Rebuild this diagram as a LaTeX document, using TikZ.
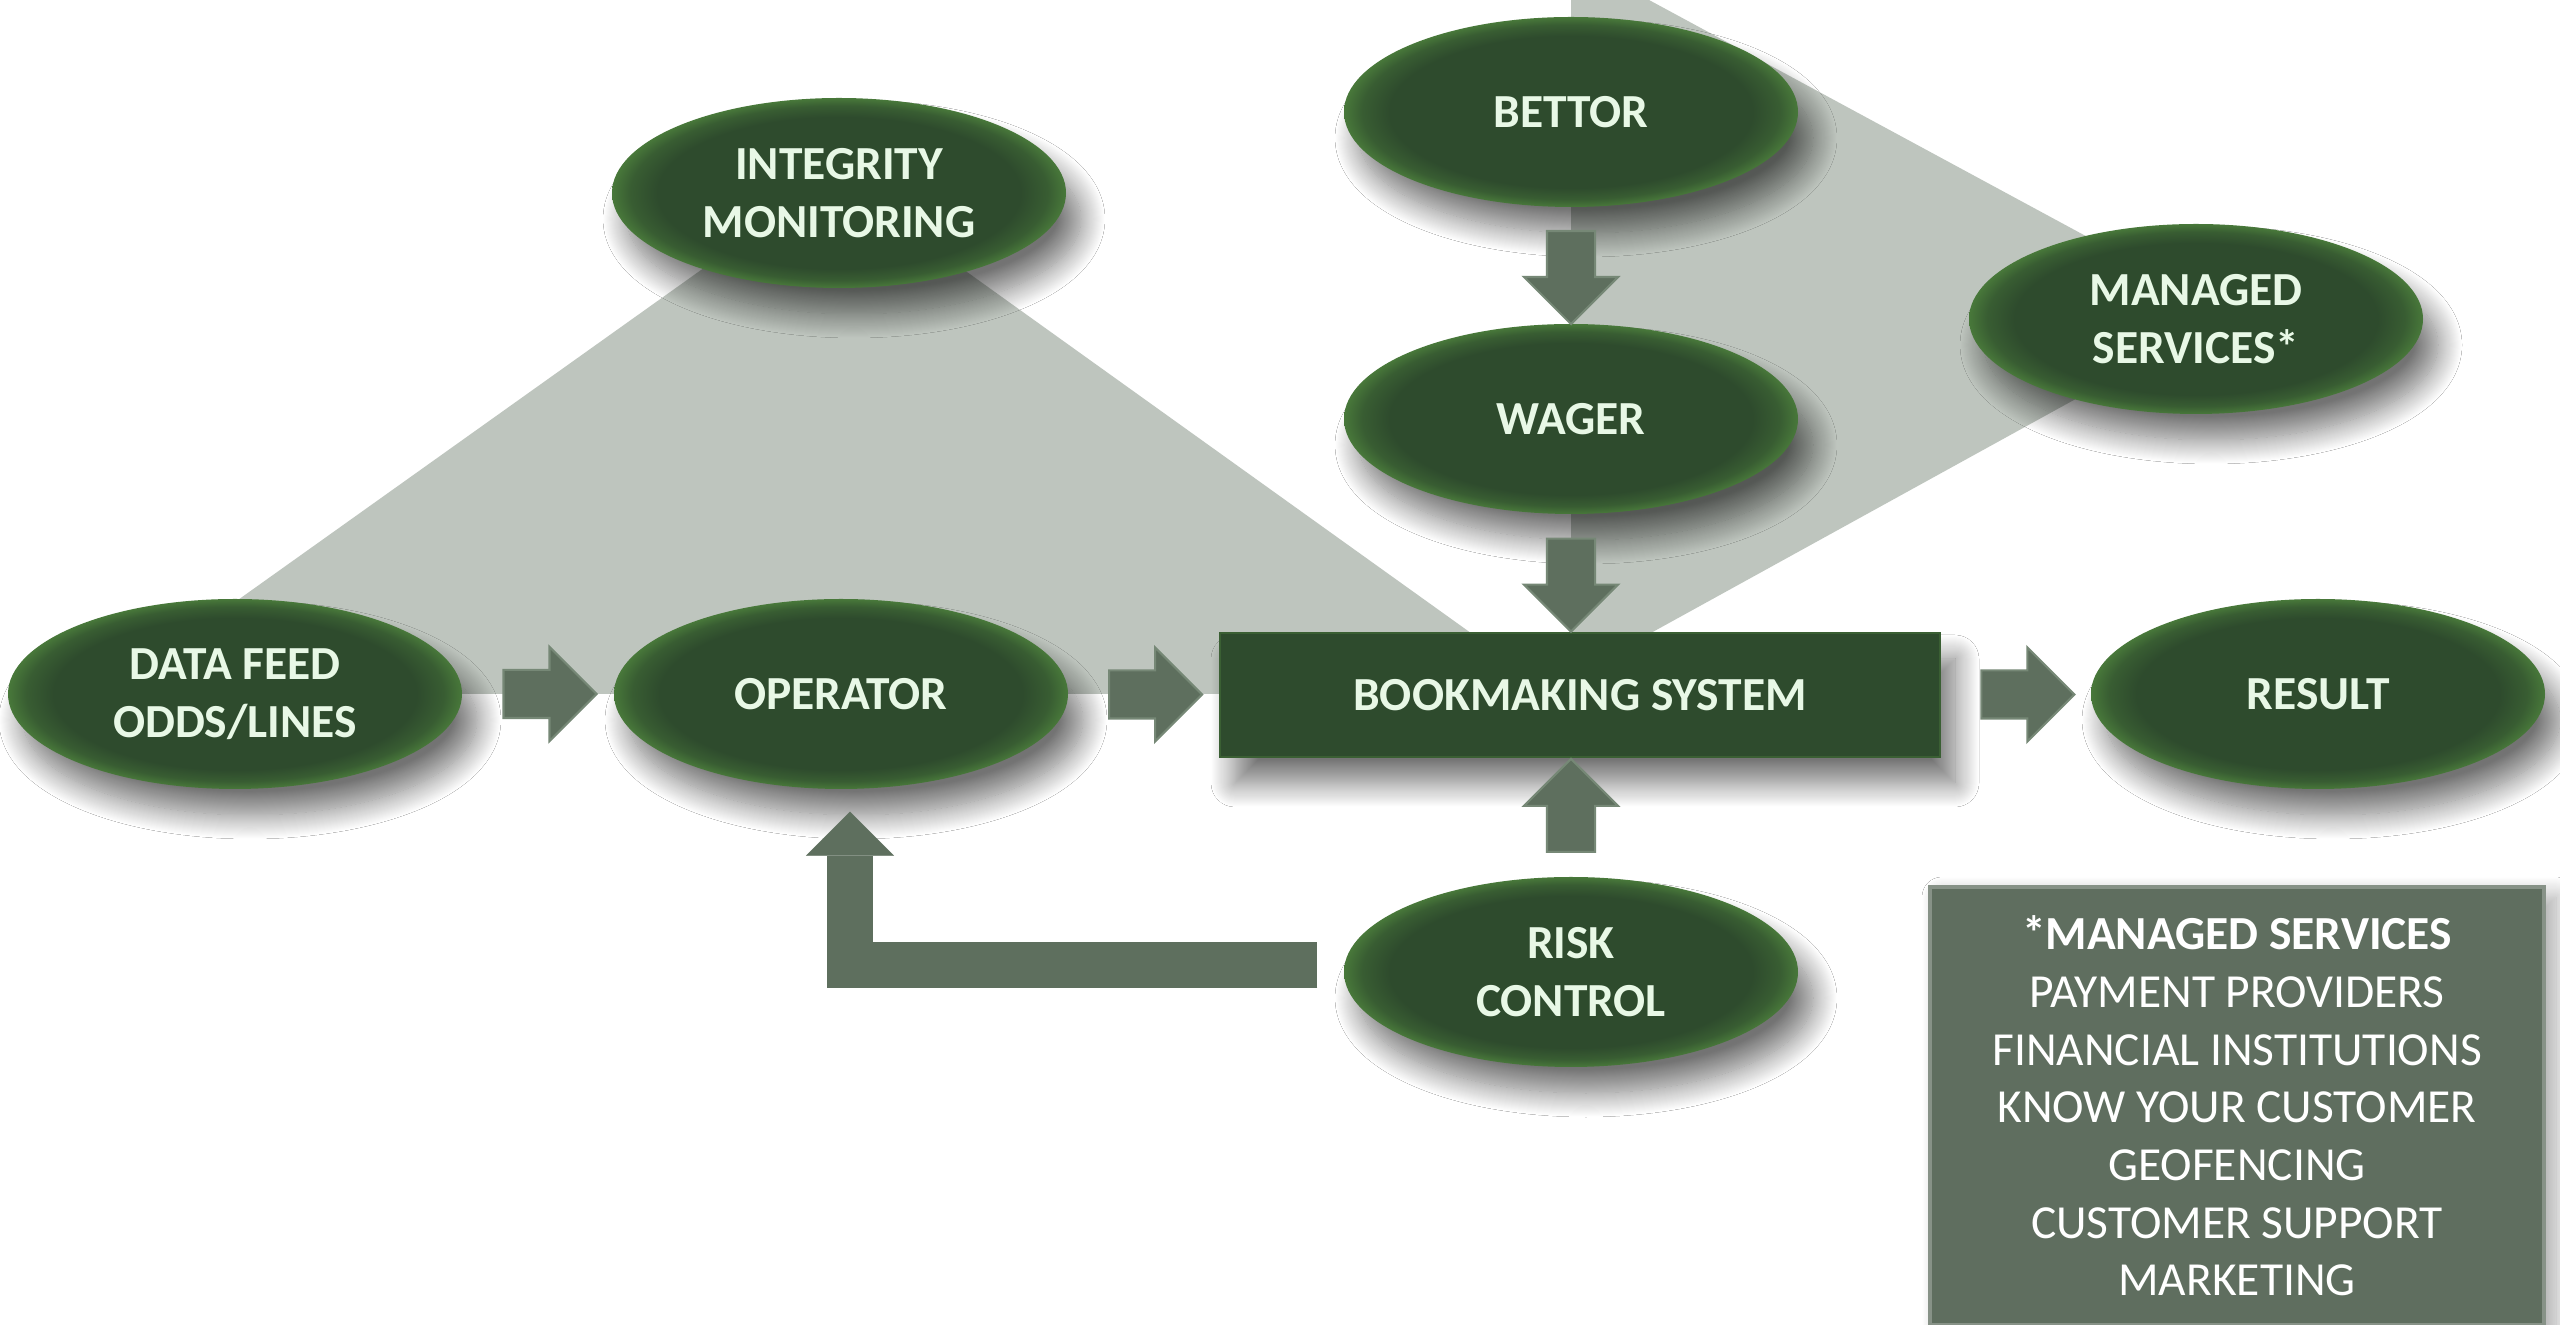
\documentclass[tikz,border=0pt]{standalone}
\usepackage{fontspec}
\setmainfont{Carlito}
\usepackage{xcolor}
\usetikzlibrary{shapes.geometric, shapes.arrows, arrows.meta, calc, shadows.blur}

\definecolor{eldark}{RGB}{46,75,45}
\definecolor{elrim}{RGB}{72,120,58}
\colorlet{elmid}{eldark!60!elrim}
\definecolor{eltext}{RGB}{232,248,230}
\definecolor{bggray}{RGB}{190,197,190}
\definecolor{arrowgray}{RGB}{94,111,94}
\definecolor{arrowedge}{RGB}{118,136,118}
\definecolor{boxgray}{RGB}{95,110,95}

\pgfdeclareradialshading{greenrim}{\pgfpointorigin}{color(0bp)=(eldark); color(20bp)=(eldark); color(23bp)=(elmid); color(25bp)=(elrim); color(50bp)=(elrim)}

\tikzset{
  shadowed/.style={blur shadow={shadow xshift=1.5mm, shadow yshift=-2.6mm, shadow blur radius=2.4mm,
    shadow blur steps=24, shadow opacity=55}},
  blob/.style={ellipse, shade, shading=greenrim, minimum width=4.54cm, minimum height=1.9cm,
    inner sep=0pt, align=center, text=eltext, font=\fontsize{13.5}{16.4}\selectfont\bfseries, shadowed},
  bookbox/.style={rectangle, fill=eldark, draw=eldark!55!elrim, line width=0.8pt, minimum width=7.2cm,
    minimum height=1.24cm, inner sep=0pt, text=eltext, font=\fontsize{13.5}{16.4}\selectfont\bfseries, shadowed},
  listbox/.style={rectangle, fill=boxgray, draw=boxgray!75!white, line width=1.2pt, minimum width=6.14cm,
    minimum height=4.38cm, inner sep=0pt, align=center, text=white, font=\fontsize{13.5}{16.4}\selectfont,
    blur shadow={shadow xshift=1.2mm, shadow yshift=-1mm, shadow blur radius=2mm, shadow blur steps=20, shadow opacity=35}},
  blockarrow/.style={single arrow, fill=arrowgray, draw=arrowedge, line width=0.6pt, inner sep=2.3mm,
    single arrow head extend=2.3mm, minimum height=0.93cm},
  feedback/.style={draw=arrowgray, line width=4.6mm, line join=miter,
    -{Triangle[length=4.4mm, width=8.8mm, line width=0.1pt]}}
}

\begin{document}
\begin{tikzpicture}[x=0.1mm, y=-0.1mm]
\fill[white] (0,0) rectangle (2560,1325);
\useasboundingbox (0,0) rectangle (2560,1325);
%% background planes
\fill[bggray] (106,694) -- (833,176) -- (1556,694) -- cycle;
\fill[bggray] (1571,0) -- (1649,0) -- (2230,314) -- (1571,677) -- cycle;
%% ellipses
\node[blob] (feed) at (235,694) {DATA FEED\\ODDS/LINES};
\node[blob] (oper) at (841,694) {OPERATOR};
\node[blob] (integ) at (839,193) {INTEGRITY\\MONITORING};
\node[blob] (bettor) at (1571,112) {BETTOR};
\node[blob] (wager) at (1571,419) {WAGER};
\node[blob] (managed) at (2196,319) {MANAGED\\SERVICES*};
\node[blob] (result) at (2318,694) {RESULT};
\node[blob] (risk) at (1571,972) {RISK\\CONTROL};
\node[bookbox] (book) at (1580,695) {BOOKMAKING SYSTEM};
\node[listbox] (list) at (2237,1106) {\textbf{*MANAGED SERVICES}\\PAYMENT PROVIDERS\\FINANCIAL INSTITUTIONS\\KNOW YOUR CUSTOMER\\GEOFENCING\\CUSTOMER SUPPORT\\MARKETING};
%% arrows
\node[blockarrow] (a1) at ($(feed.east)!0.5!(oper.west)$) {};
\node[blockarrow] (a2) at ($(oper.east)!0.5!(book.west)$) {};
\node[blockarrow] (a3) at ($(book.east)!0.5!(result.west)$) {};
\node[blockarrow, shape border rotate=270] (a4) at ($(bettor.south)!0.5!(wager.north)$) {};
\node[blockarrow, shape border rotate=270] (a5) at ($(wager.south)!0.5!(wager.south |- book.north)$) {};
\node[blockarrow, shape border rotate=90] (a6) at ($(risk.north)!0.5!(risk.north |- book.south)$) {};
%feedback to operator
\draw[feedback] ($(risk.west)+(-26,-7)$) -| ($(oper.south)+(9,22)$);
\end{tikzpicture}
\end{document}
